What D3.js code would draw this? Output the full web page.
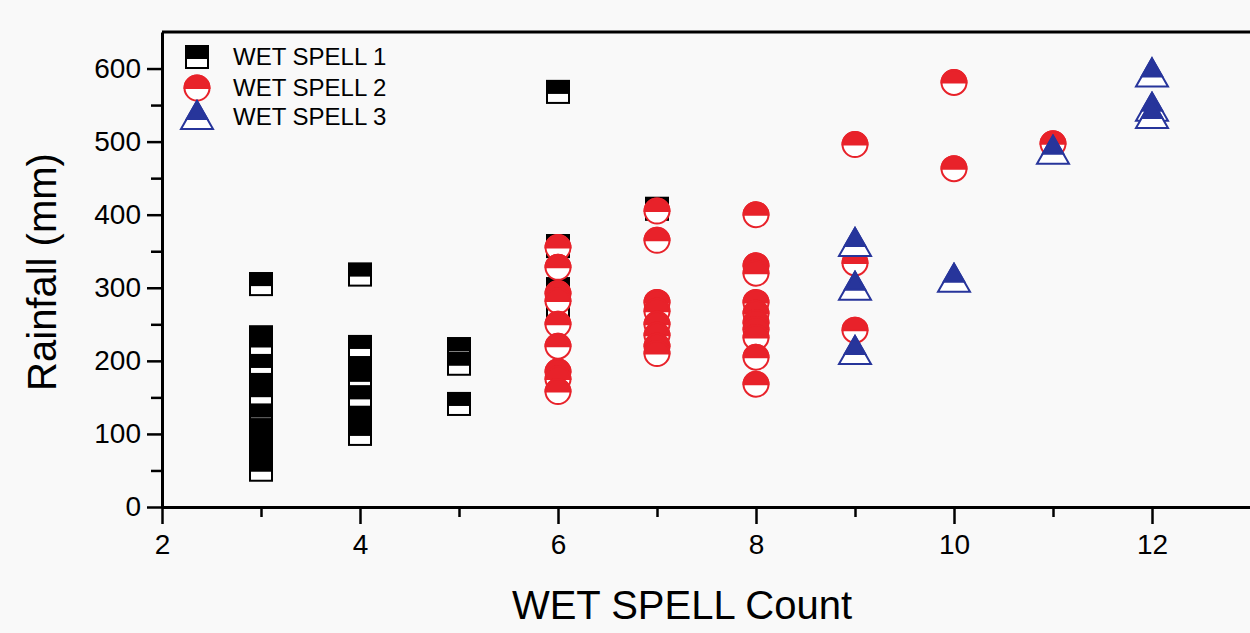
<!DOCTYPE html>
<html>
<head>
<meta charset="utf-8">
<script src="https://cdn.jsdelivr.net/npm/d3@7/dist/d3.min.js"></script>
<style>
  html, body { margin: 0; padding: 0; background: #f9f9f9; }
  svg { display: block; font-family: "Liberation Sans", Arial, sans-serif; }
</style>
</head>
<body>
<svg id="chart" width="1250" height="633"></svg>
<script>
// Wet spell counts (x) and rainfall totals in mm (y) for each spell type
const spell1Count = [3, 3, 3, 3, 3, 3, 3, 3, 3, 3, 3, 3,
                     4, 4, 4, 4, 4, 4, 4, 4,
                     5, 5, 5,
                     6, 6, 6, 6,
                     7];
const spell1Rain  = [305, 232, 221, 193, 167, 153, 125, 105, 90, 74, 59, 51,
                     318, 219, 190, 174, 150, 122, 108, 100,
                     216, 196, 141,
                     568, 357, 298, 272,
                     408];

const spell2Count = [6, 6, 6, 6, 6, 6, 6, 6, 6,
                     7, 7, 7, 7, 7, 7, 7, 7,
                     8, 8, 8, 8, 8, 8, 8, 8, 8, 8,
                     9, 9, 9,
                     10, 10,
                     11];
const spell2Rain  = [355, 328, 292, 282, 250, 220, 185, 175, 158,
                     405, 365, 280, 268, 250, 235, 220, 210,
                     400, 330, 320, 280, 265, 252, 243, 232, 205, 168,
                     496, 334, 242,
                     581, 463,
                     497];

const spell3Count = [9, 9, 9, 10, 11, 12, 12, 12];
const spell3Rain  = [360, 300, 212, 311, 486, 592, 545, 535];

const legendLabels = ["WET SPELL 1", "WET SPELL 2", "WET SPELL 3"];
const xMajorTicks = [2, 4, 6, 8, 10, 12];
const xMinorTicks = [3, 5, 7, 9, 11, 13];
const yMajorTicks = [0, 100, 200, 300, 400, 500, 600];
const yMinorTicks = [50, 150, 250, 350, 450, 550];

const RED = "#e8222a";
const BLUE = "#27359b";
const BLACK = "#000000";

const svg = d3.select("#chart");

const x = d3.scaleLinear().domain([2, 13]).range([162, 1251]);
const y = d3.scaleLinear().domain([0, 650]).range([507, 32]);

// ---------- marker painters (upper part filled, lower part hollow) ----------
function halfSquare(g, cx, cy) {
  const h = 11;
  g.append("rect").attr("x", cx - h).attr("y", cy - h).attr("width", 2 * h).attr("height", 2 * h)
    .attr("fill", "#fff").attr("stroke", BLACK).attr("stroke-width", 2);
  g.append("rect").attr("x", cx - h).attr("y", cy - h).attr("width", 2 * h).attr("height", h + 1)
    .attr("fill", BLACK).attr("stroke", BLACK).attr("stroke-width", 2);
}
function halfCircle(g, cx, cy) {
  const r = 12.5;
  g.append("circle").attr("cx", cx).attr("cy", cy).attr("r", r)
    .attr("fill", "#fff").attr("stroke", RED).attr("stroke-width", 2);
  g.append("path")
    .attr("d", `M${cx - r},${cy} A${r},${r} 0 0 1 ${cx + r},${cy} Z`)
    .attr("fill", RED).attr("stroke", RED).attr("stroke-width", 2);
}
function halfTriangle(g, cx, cy) {
  const top = cy - 16, base = cy + 12, hw = 16, split = cy + 2;
  const t = (split - top) / (base - top);
  g.append("path")
    .attr("d", `M${cx},${top} L${cx + hw},${base} L${cx - hw},${base} Z`)
    .attr("fill", "#fff").attr("stroke", BLUE).attr("stroke-width", 2).attr("stroke-linejoin", "miter");
  g.append("path")
    .attr("d", `M${cx},${top} L${cx + hw * t},${split} L${cx - hw * t},${split} Z`)
    .attr("fill", BLUE).attr("stroke", BLUE).attr("stroke-width", 2).attr("stroke-linejoin", "miter");
}

// ---------- axes ----------
const axisStyle = sel => {
  sel.selectAll("path.domain").attr("stroke", BLACK).attr("stroke-width", 3);
  sel.selectAll(".tick line").attr("stroke", BLACK).attr("stroke-width", 2.5);
  sel.selectAll(".tick text").attr("fill", BLACK).style("font-size", "28px");
};

// minor ticks
svg.append("g").attr("transform", "translate(0,507)")
  .call(d3.axisBottom(x).tickValues(xMinorTicks).tickSize(10).tickFormat("").tickSizeOuter(0))
  .call(axisStyle).call(g => g.select("path.domain").remove());
svg.append("g").attr("transform", "translate(162,0)")
  .call(d3.axisLeft(y).tickValues(yMinorTicks).tickSize(11).tickFormat("").tickSizeOuter(0))
  .call(axisStyle).call(g => g.select("path.domain").remove());

// major ticks with labels
svg.append("g").attr("transform", "translate(0,507)")
  .call(d3.axisBottom(x).tickValues(xMajorTicks).tickSize(17).tickPadding(10).tickSizeOuter(0))
  .call(axisStyle);
svg.append("g").attr("transform", "translate(162,0)")
  .call(d3.axisLeft(y).tickValues(yMajorTicks).tickSize(15).tickPadding(6).tickSizeOuter(0))
  .call(axisStyle);

// frame: top edge
svg.append("line").attr("x1", 162).attr("x2", 1250).attr("y1", y(650)).attr("y2", y(650))
  .attr("stroke", BLACK).attr("stroke-width", 3);

// axis titles
svg.append("text").attr("x", 682).attr("y", 619).attr("text-anchor", "middle")
  .style("font-size", "40px").attr("fill", BLACK).text("WET SPELL Count");
svg.append("text").attr("transform", "translate(56,272) rotate(-90)").attr("text-anchor", "middle")
  .style("font-size", "40px").attr("fill", BLACK).text("Rainfall (mm)");

// ---------- data marks ----------
const gS1 = svg.append("g");
d3.range(spell1Count.length).forEach(i => halfSquare(gS1, x(spell1Count[i]), y(spell1Rain[i])));
const gS2 = svg.append("g");
d3.range(spell2Count.length).forEach(i => halfCircle(gS2, x(spell2Count[i]), y(spell2Rain[i])));
const gS3 = svg.append("g");
d3.range(spell3Count.length).forEach(i => halfTriangle(gS3, x(spell3Count[i]), y(spell3Rain[i])));

// ---------- legend ----------
const legend = svg.append("g");
const painters = [halfSquare, halfCircle, halfTriangle];
const legendY = [57, 88, 117];
legendLabels.forEach((lab, i) => {
  painters[i](legend, 197, legendY[i]);
  legend.append("text").attr("x", 233).attr("y", legendY[i] + 8)
    .style("font-size", "24px").attr("fill", BLACK).text(lab);
});
</script>
</body>
</html>
